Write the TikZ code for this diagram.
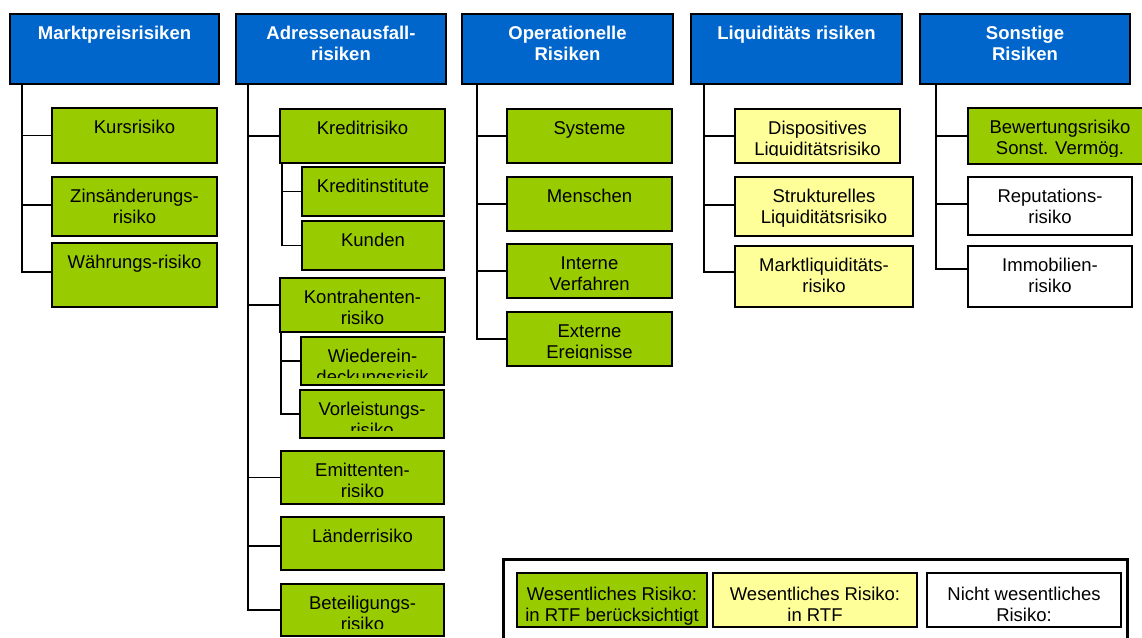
\documentclass[tikz,border=0pt]{standalone}
\usepackage{fontspec}
\setmainfont{Liberation Sans}
\definecolor{hblue}{HTML}{0066CC}
\definecolor{rgreen}{HTML}{99CC00}
\definecolor{ryellow}{HTML}{FFFF99}
\tikzset{
  rb/.style={draw=black, line width=2.2pt, rectangle, inner sep=0pt, outer sep=0pt},
  rt/.style={inner sep=0pt, outer sep=0pt, align=center, font=\fontsize{18.5}{20.5}\selectfont, text=black},
  ht/.style={inner sep=0pt, outer sep=0pt, align=center, font=\fontsize{18.5}{21}\selectfont\bfseries, text=white},
  lt/.style={inner sep=0pt, outer sep=0pt, align=center, font=\fontsize{18.5}{21}\selectfont, text=black},
  conn/.style={draw=black, line width=1.8pt},
  legframe/.style={draw=black, line width=3pt, fill=white},
}
% name, x1, y1, x2, y2, fill, text
\newcommand\rbox[7]{%
  \pgfmathsetmacro\bw{#4-#2}\pgfmathsetmacro\bh{#5-#3}%
  \node[rb, fill=#6, anchor=north west, minimum width=\bw pt, minimum height=\bh pt] (#1) at (#2,#3) {};
  \begin{scope}
    \clip (#1.north west) rectangle ([yshift=8pt]#1.south east);
    \node[rt, anchor=north] (#1t) at ([yshift=-11.15pt]#1.north) {\strut #7};
  \end{scope}}
% name, x1, y1, x2, y2, text
\newcommand\hdrbox[6]{%
  \pgfmathsetmacro\bw{#4-#2}\pgfmathsetmacro\bh{#5-#3}%
  \node[rb, fill=hblue, anchor=north west, minimum width=\bw pt, minimum height=\bh pt] (#1) at (#2,#3) {};
  \node[ht, anchor=north] (#1t) at ([yshift=-10.8pt]#1.north) {\strut #6};}
% name, x1, y1, x2, y2, fill, text
\newcommand\legbox[7]{%
  \pgfmathsetmacro\bw{#4-#2}\pgfmathsetmacro\bh{#5-#3}%
  \node[rb, fill=#6, anchor=north west, minimum width=\bw pt, minimum height=\bh pt] (#1) at (#2,#3) {};
  \node[lt, anchor=north] (#1t) at ([yshift=-12.3pt]#1.north) {\strut #7};}
\begin{document}
\begin{tikzpicture}[x=1pt, y=-1pt]
\useasboundingbox (0,0) rectangle (1142,637);
\fill[white] (0,0) rectangle (1142,637);

% headers
\hdrbox{h1}{10}{14}{219}{84}{Marktpreisrisiken}
\hdrbox{h2}{236}{14}{446}{84}{Adressenausfall-\\risiken}
\hdrbox{h3}{462}{14}{673}{84}{Operationelle\\Risiken}
\hdrbox{h4}{691}{14}{902}{84}{Liquiditäts risiken}
\hdrbox{h5}{920}{14}{1130}{84}{Sonstige\\Risiken}

% column 1
\rbox{kurs}{52}{108}{217}{163}{rgreen}{Kursrisiko}
\rbox{zins}{52}{177}{217}{236}{rgreen}{Zinsänderungs-\\risiko}
\rbox{waehr}{52}{243}{217}{307}{rgreen}{Währungs-risiko}

% column 2
\rbox{kredit}{280}{109}{445}{163}{rgreen}{Kreditrisiko}
\rbox{kinst}{302}{167}{444}{216}{rgreen}{Kreditinstitute}
\rbox{kunden}{302}{221}{444}{270}{rgreen}{Kunden}
\rbox{kontra}{280}{278}{445}{332}{rgreen}{Kontrahenten-\\risiko}
\rbox{wieder}{301}{337}{444}{385}{rgreen}{Wiederein-\\deckungsrisik}
\rbox{vorl}{300}{390}{444}{438}{rgreen}{Vorleistungs-\\risiko}
\rbox{emit}{281}{451}{444}{504}{rgreen}{Emittenten-\\risiko}
\rbox{laender}{281}{517}{444}{570}{rgreen}{Länderrisiko}
\rbox{beteil}{281}{584}{444}{636}{rgreen}{Beteiligungs-\\risiko}

% column 3
\rbox{syst}{507}{109}{672}{163}{rgreen}{Systeme}
\rbox{mensch}{507}{177}{672}{231}{rgreen}{Menschen}
\rbox{intern}{507}{244}{672}{298}{rgreen}{Interne\\Verfahren}
\rbox{extern}{507}{312}{672}{366}{rgreen}{Externe\\Ereignisse}

% column 4
\rbox{dispo}{735}{109}{900}{163}{ryellow}{Dispositives\\Liquiditätsrisiko}
\rbox{strukt}{735}{177}{913}{236}{ryellow}{Strukturelles\\Liquiditätsrisiko}
\rbox{mliq}{735}{246}{913}{307}{ryellow}{Marktliquiditäts-\\risiko}

% column 5
\rbox{bew}{968}{108}{1152}{164}{rgreen}{Bewertungsrisiko\\Sonst. Vermög.}
\rbox{rep}{968}{177}{1132}{235}{white}{Reputations-\\risiko}
\rbox{immo}{968}{246}{1132}{307}{white}{Immobilien-\\risiko}

% connectors column 1
\draw[conn] ([xshift=12pt]h1.south west) |- (kurs.west);
\draw[conn] ([xshift=12pt]h1.south west) |- ([yshift=1.5pt]zins.west);
\draw[conn] ([xshift=12pt]h1.south west) |- ([yshift=3pt]waehr.west);
% column 2
\draw[conn] ([xshift=12pt]h2.south west) |- (kredit.west);
\draw[conn] ([xshift=12pt]h2.south west) |- (kontra.west);
\draw[conn] ([xshift=12pt]h2.south west) |- (emit.west);
\draw[conn] ([xshift=12pt]h2.south west) |- ([yshift=-2.5pt]laender.west);
\draw[conn] ([xshift=12pt]h2.south west) |- (beteil.west);
\draw[conn] ([xshift=2pt]kredit.south west) |- (kinst.west);
\draw[conn] ([xshift=2pt]kredit.south west) |- (kunden.west);
\draw[conn] ([xshift=1pt]kontra.south west) |- (wieder.west);
\draw[conn] ([xshift=1pt]kontra.south west) |- (vorl.west);
% column 3
\draw[conn] ([xshift=15pt]h3.south west) |- (syst.west);
\draw[conn] ([xshift=15pt]h3.south west) |- (mensch.west);
\draw[conn] ([xshift=15pt]h3.south west) |- (intern.west);
\draw[conn] ([xshift=15pt]h3.south west) |- (extern.west);
% column 4
\draw[conn] ([xshift=13pt]h4.south west) |- (dispo.west);
\draw[conn] ([xshift=13pt]h4.south west) |- ([yshift=1.5pt]strukt.west);
\draw[conn] ([xshift=13pt]h4.south west) |- ([yshift=4.5pt]mliq.west);
% column 5
\draw[conn] ([xshift=16pt]h5.south west) |- (bew.west);
\draw[conn] ([xshift=16pt]h5.south west) |- ([yshift=2pt]rep.west);
\draw[conn] ([xshift=16pt]h5.south west) |- ([yshift=7.5pt]immo.west);

% legend
\node[legframe, anchor=north west, minimum width=624pt, minimum height=110pt, inner sep=0pt, outer sep=0pt] (leg) at (503,559) {};
\legbox{lg}{517}{573}{707}{627}{rgreen}{Wesentliches Risiko:\\in RTF berücksichtigt}
\legbox{ly}{713}{573}{917}{627}{ryellow}{Wesentliches Risiko:\\in RTF}
\legbox{lw}{927}{573}{1121}{627}{white}{Nicht wesentliches\\Risiko:}
\end{tikzpicture}
\end{document}
